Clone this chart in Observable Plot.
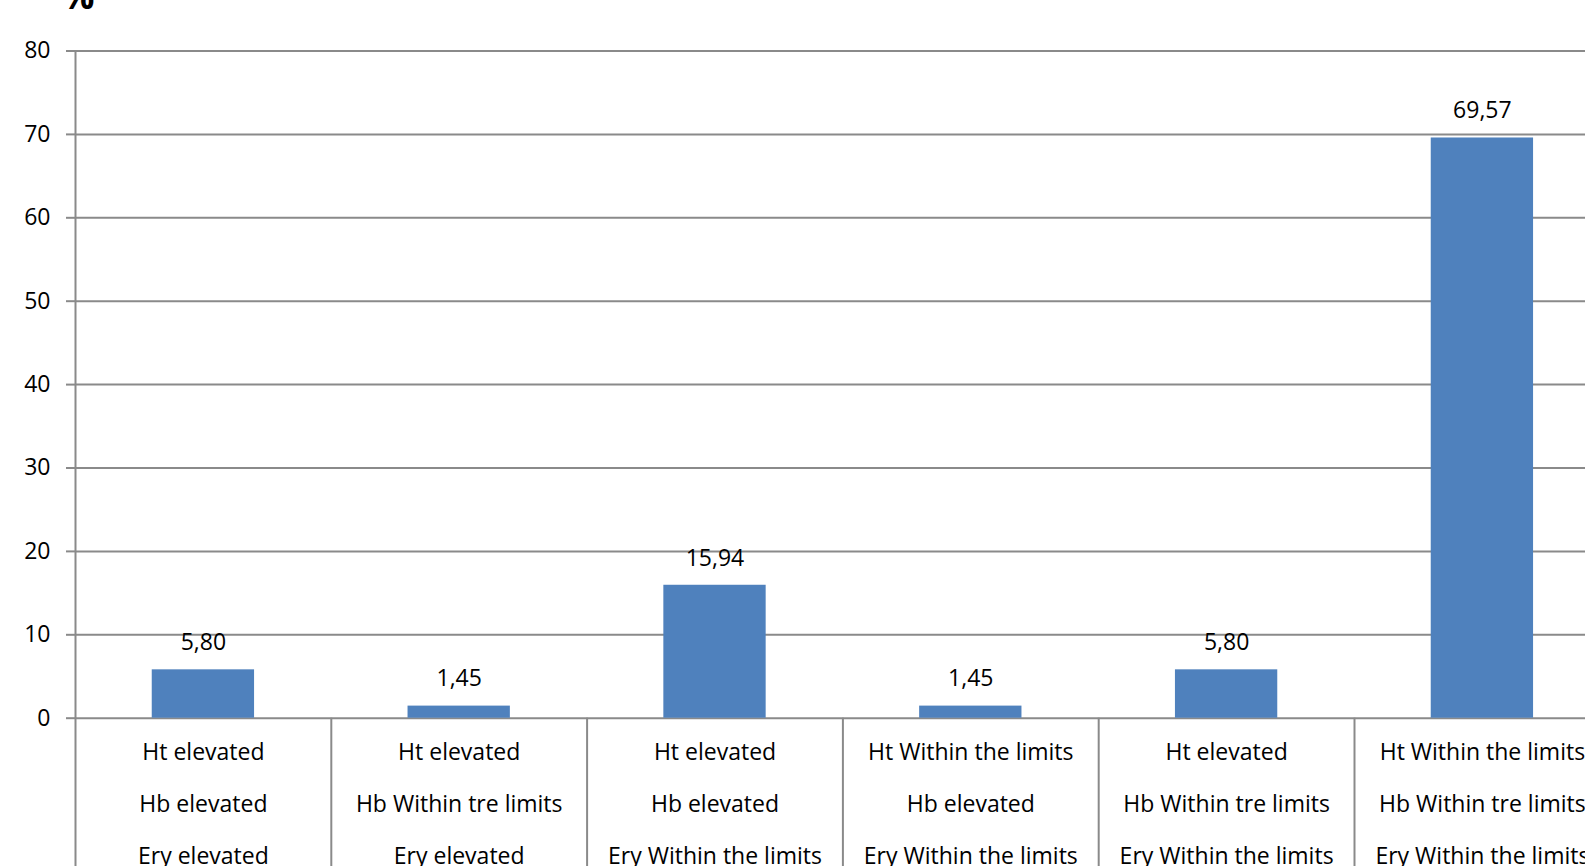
<!DOCTYPE html>
<html>
<head>
<meta charset="utf-8">
<script src="https://cdn.jsdelivr.net/npm/d3@7"></script>
<script src="https://cdn.jsdelivr.net/npm/@observablehq/plot@0.6"></script>
<style>
  html, body { margin: 0; padding: 0; background: #fff; overflow: hidden; width: 1585px; height: 866px; }
  #wrap { position: relative; width: 1585px; height: 866px; overflow: hidden; }
  #ylabel { position: absolute; z-index: 2; left: 62px; top: -24px; font: bold 36px "Open Sans", sans-serif; line-height: 40px; color: #000; }
  #chart svg { position: absolute; left: 0; top: 0; max-width: none !important; height: auto; }
</style>
</head>
<body>
<div id="wrap">
  <div id="chart"></div>
  <div id="ylabel">%</div>
</div>
<script>
const categories = [
  "Ht elevated\nHb elevated\nEry elevated",
  "Ht elevated\nHb Within tre limits\nEry elevated",
  "Ht elevated\nHb elevated\nEry Within the limits",
  "Ht Within the limits\nHb elevated\nEry Within the limits",
  "Ht elevated\nHb Within tre limits\nEry Within the limits",
  "Ht Within the limits\nHb Within tre limits\nEry Within the limits"
];
const values = [5.80, 1.45, 15.94, 1.45, 5.80, 69.57];
const yTicks = [0, 10, 20, 30, 40, 50, 60, 70, 80];

const data = categories.map((c, i) => ({cat: c, value: values[i]}));
const fmt = v => d3.format(".2f")(v).replace(".", ",");

const W = 1650, H = 900;
const marginLeft = 75, marginTop = 50.5, marginBottom = 182.3;
const step = 255.8;
const marginRight = W - marginLeft - step * categories.length;
const grid = "#8a8a8a";

const chart = Plot.plot({
  width: W,
  height: H,
  marginLeft, marginRight, marginTop, marginBottom,
  style: {fontFamily: "'Open Sans', sans-serif", fontSize: "23px", color: "#000", background: "#fff", maxWidth: "none"},
  x: {type: "band", domain: categories, paddingInner: 0.6, paddingOuter: 0.3, round: false, axis: null},
  y: {domain: [0, 80], ticks: yTicks, label: null},
  marks: [
    Plot.ruleY(yTicks, {stroke: grid, strokeWidth: 2}),
    Plot.axisY(yTicks, {tickSize: 9, tickPadding: 16, stroke: grid, strokeWidth: 2, strokeOpacity: 1, fill: "#000", label: null, tickFormat: d => d}),
    Plot.ruleX([categories[0]], {y1: 80, y2: -20, dx: -step / 2, stroke: grid, strokeWidth: 2}),
    Plot.ruleX(categories.slice(1), {y1: 0, y2: -20, dx: -step / 2, stroke: grid, strokeWidth: 2}),
    Plot.barY(data, {x: "cat", y: "value", fill: "#4F81BD", inset: 0}),
    Plot.text(data, {x: "cat", y: "value", text: d => fmt(d.value), dy: -27, lineAnchor: "middle", fill: "#000"}),
    Plot.text(data, {x: "cat", y: 0, text: "cat", dy: 77, lineAnchor: "middle", lineHeight: 2.28, fill: "#000"})
  ]
});
document.getElementById("chart").appendChild(chart);
</script>
</body>
</html>
